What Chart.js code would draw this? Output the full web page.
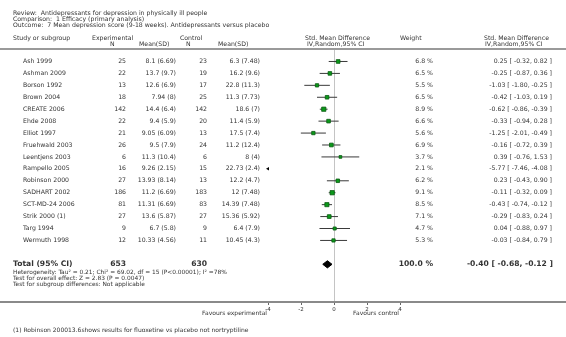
<!DOCTYPE html>
<html>
<head>
<meta charset="utf-8">
<script src="https://cdn.jsdelivr.net/npm/chart.js@4.4.1/dist/chart.umd.min.js"></script>
<style>
  html, body { margin: 0; padding: 0; background: #fff; }
  #wrap { width: 566px; height: 337px; }
</style>
</head>
<body>
<div id="wrap"><canvas id="forest" width="566" height="337"></canvas></div>
<script>
// datos
const studies = ['Ash 1999', 'Ashman 2009', 'Borson 1992', 'Brown 2004', 'CREATE 2006', 'Ehde 2008',
  'Elliot 1997', 'Fruehwald 2003', 'Leentjens 2003', 'Rampello 2005', 'Robinson 2000', 'SADHART 2002',
  'SCT-MD-24 2006', 'Strik 2000 (1)', 'Targ 1994', 'Wermuth 1998'];
const expN = [25, 22, 13, 18, 142, 22, 21, 26, 6, 16, 27, 186, 81, 27, 9, 12];
const expMean = ['8.1 (6.69)', '13.7 (9.7)', '12.6 (6.9)', '7.94 (8)', '14.4 (6.4)', '9.4 (5.9)',
  '9.05 (6.09)', '9.5 (7.9)', '11.3 (10.4)', '9.26 (2.15)', '13.93 (8.14)', '11.2 (6.69)',
  '11.31 (6.69)', '13.6 (5.87)', '6.7 (5.8)', '10.33 (4.56)'];
const ctrlN = [23, 19, 17, 25, 142, 20, 13, 24, 6, 15, 13, 183, 83, 27, 9, 11];
const ctrlMean = ['6.3 (7.48)', '16.2 (9.6)', '22.8 (11.3)', '11.3 (7.73)', '18.6 (7)', '11.4 (5.9)',
  '17.5 (7.4)', '11.2 (12.4)', '8 (4)', '22.73 (2.4)', '12.2 (4.7)', '12 (7.48)',
  '14.39 (7.48)', '15.36 (5.92)', '6.4 (7.9)', '10.45 (4.3)'];
const weights = [6.8, 6.5, 5.5, 6.5, 8.9, 6.6, 5.6, 6.9, 3.7, 2.1, 6.2, 9.1, 8.5, 7.1, 4.7, 5.3];
const smd = [0.25, -0.25, -1.03, -0.42, -0.62, -0.33, -1.25, -0.16, 0.39, -5.77, 0.23, -0.11, -0.43, -0.29, 0.04, -0.03];
const ciLow = [-0.32, -0.87, -1.80, -1.03, -0.86, -0.94, -2.01, -0.72, -0.76, -7.46, -0.43, -0.32, -0.74, -0.83, -0.88, -0.84];
const ciHigh = [0.82, 0.36, -0.25, 0.19, -0.39, 0.28, -0.49, 0.39, 1.53, -4.08, 0.90, 0.09, -0.12, 0.24, 0.97, 0.79];
const total = { n1: 653, n2: 630, weight: '100.0 %', smd: -0.40, lo: -0.68, hi: -0.12 };
const xTicks = [-4, -2, 0, 2, 4];

const FONT = '"DejaVu Sans", Verdana, sans-serif';
const TXT = '#333';
const X_MIN = xTicks[0], X_MAX = xTicks[xTicks.length - 1];
const TOTAL_ROW = studies.length + 1;

const fmt = v => v.toFixed(2);
const ciText = i => `${fmt(smd[i])} [ ${fmt(ciLow[i])}, ${fmt(ciHigh[i])} ]`;

// lineas de IC, una por estudio
const ciSets = studies.map((s, i) => ({
  type: 'line',
  data: [{ x: ciLow[i], y: i }, { x: ciHigh[i], y: i }],
  borderColor: '#3a3a3a',
  borderWidth: 1,
  pointRadius: 0,
  order: 3
}));

// flechas para IC fuera de escala
const arrowPts = studies.map((s, i) => ciHigh[i] < X_MIN ? { x: X_MIN, y: i } : null).filter(p => p);

const dh = 0.3; // media altura del rombo
const datasets = [
  {
    type: 'scatter',
    data: studies.map((s, i) => ({ x: smd[i], y: i })),
    pointStyle: 'rect',
    pointRadius: weights.map(w => 1.0 * Math.sqrt(w)),
    backgroundColor: '#0b9a1a',
    borderColor: '#0a5a12',
    borderWidth: 0.8,
    order: 0
  },
  {
    type: 'scatter',
    data: arrowPts,
    pointStyle: 'triangle',
    rotation: -90,
    pointRadius: 2,
    backgroundColor: '#000',
    borderColor: '#000',
    borderWidth: 0,
    clip: false,
    order: 0
  },
  {
    type: 'line',
    data: [{ x: total.lo, y: TOTAL_ROW }, { x: total.smd, y: TOTAL_ROW - dh }, { x: total.hi, y: TOTAL_ROW }],
    borderColor: '#000', backgroundColor: '#000', borderWidth: 1, pointRadius: 0, tension: 0,
    fill: '+1', order: 1
  },
  {
    type: 'line',
    data: [{ x: total.lo, y: TOTAL_ROW }, { x: total.smd, y: TOTAL_ROW + dh }, { x: total.hi, y: TOTAL_ROW }],
    borderColor: '#000', borderWidth: 1, pointRadius: 0, tension: 0, fill: false, order: 1
  },
  ...ciSets
];

function txt(ctx, s, x, y, align, size, bold) {
  ctx.font = `${bold ? 'bold ' : ''}${size}px ${FONT}`;
  ctx.textAlign = align || 'left';
  ctx.fillText(s, x, y);
}

const tablePlugin = {
  id: 'tabla',
  beforeDraw(chart) {
    const ctx = chart.ctx;
    ctx.save();
    ctx.fillStyle = '#fff';
    ctx.fillRect(0, 0, chart.width, chart.height);
    ctx.restore();
  },
  afterDraw(chart) {
    const ctx = chart.ctx;
    const ys = chart.scales.y, xs = chart.scales.x;
    ctx.save();
    ctx.fillStyle = TXT;
    ctx.textBaseline = 'middle';

    txt(ctx, 'Review:  Antidepressants for depression in physically ill people', 13, 13, 'left', 6.2);
    txt(ctx, 'Comparison:  1 Efficacy (primary analysis)', 13, 19, 'left', 6.2);
    txt(ctx, 'Outcome:  7 Mean depression score (9-18 weeks). Antidepressants versus placebo', 13, 25, 'left', 6.2);

    txt(ctx, 'Study or subgroup', 13, 38, 'left', 6.2);
    txt(ctx, 'Experimental', 92, 38, 'left', 6.2);
    txt(ctx, 'N', 110, 44, 'left', 6.2);
    txt(ctx, 'Mean(SD)', 139, 44, 'left', 6.2);
    txt(ctx, 'Control', 180, 38, 'left', 6.2);
    txt(ctx, 'N', 186, 44, 'left', 6.2);
    txt(ctx, 'Mean(SD)', 218, 44, 'left', 6.2);
    txt(ctx, 'Std. Mean Difference', 305, 38, 'left', 6.2);
    txt(ctx, 'IV,Random,95% CI', 307, 44, 'left', 6.2);
    txt(ctx, 'Weight', 400, 38, 'left', 6.2);
    txt(ctx, 'Std. Mean Difference', 484, 38, 'left', 6.2);
    txt(ctx, 'IV,Random,95% CI', 485, 44, 'left', 6.2);

    // lineas horizontales de cabecera y eje
    ctx.fillStyle = '#9a9a9a';
    ctx.fillRect(0, 48, chart.width, 2);
    ctx.fillStyle = '#8a8a8a';
    ctx.fillRect(0, Math.round(xs.top) - 1, chart.width, 2);
    ctx.fillStyle = TXT;

    studies.forEach((s, i) => {
      const y = ys.getPixelForValue(i);
      txt(ctx, s, 23, y, 'left', 6.2);
      txt(ctx, String(expN[i]), 126, y, 'right', 6.2);
      txt(ctx, expMean[i], 176, y, 'right', 6.2);
      txt(ctx, String(ctrlN[i]), 207, y, 'right', 6.2);
      txt(ctx, ctrlMean[i], 260, y, 'right', 6.2);
      txt(ctx, weights[i].toFixed(1) + ' %', 433, y, 'right', 6.2);
      txt(ctx, ciText(i), 552, y, 'right', 6.2);
    });

    const yt = ys.getPixelForValue(TOTAL_ROW);
    txt(ctx, 'Total (95% CI)', 13, yt, 'left', 7.6, true);
    txt(ctx, String(total.n1), 126, yt, 'right', 7.6, true);
    txt(ctx, String(total.n2), 207, yt, 'right', 7.6, true);
    txt(ctx, total.weight, 433, yt, 'right', 7.6, true);
    txt(ctx, `${fmt(total.smd)} [ ${fmt(total.lo)}, ${fmt(total.hi)} ]`, 553, yt, 'right', 7.6, true);

    txt(ctx, 'Heterogeneity: Tau\u00b2 = 0.21; Chi\u00b2 = 69.02, df = 15 (P<0.00001); I\u00b2 =78%', 13, 272.5, 'left', 5.9);
    txt(ctx, 'Test for overall effect: Z = 2.83 (P = 0.0047)', 13, 278.3, 'left', 5.9);
    txt(ctx, 'Test for subgroup differences: Not applicable', 13, 284.1, 'left', 5.9);

    txt(ctx, 'Favours experimental', xs.getPixelForValue(X_MIN) - 1, 313, 'right', 6);
    txt(ctx, 'Favours control', xs.getPixelForValue(X_MAX) - 1, 313, 'right', 6);

    txt(ctx, '(1) Robinson 200013.6shows results for fluoxetine vs placebo not nortryptiline', 13, 330, 'left', 6);
    ctx.restore();
  }
};

new Chart(document.getElementById('forest'), {
  data: { datasets },
  options: {
    responsive: false,
    animation: false,
    devicePixelRatio: 1,
    layout: { padding: { left: 268, right: 166, top: 48, bottom: 23 } },
    plugins: { legend: { display: false }, tooltip: { enabled: false } },
    scales: {
      x: {
        type: 'linear',
        min: X_MIN,
        max: X_MAX,
        afterBuildTicks: s => { s.ticks = xTicks.map(v => ({ value: v })); },
        afterFit: s => { s.height = 12; },
        ticks: { color: TXT, font: { family: FONT, size: 5.5 }, padding: 1, maxRotation: 0 },
        grid: {
          color: c => (c.tick && c.tick.value === 0) ? '#c4c4c4' : 'rgba(0,0,0,0)',
          tickColor: '#666',
          tickLength: 3,
          lineWidth: 1
        },
        border: { display: false }
      },
      y: {
        type: 'linear',
        display: false,
        reverse: true,
        min: -1.13,
        max: 20.16
      }
    }
  },
  plugins: [tablePlugin]
});
</script>
</body>
</html>
